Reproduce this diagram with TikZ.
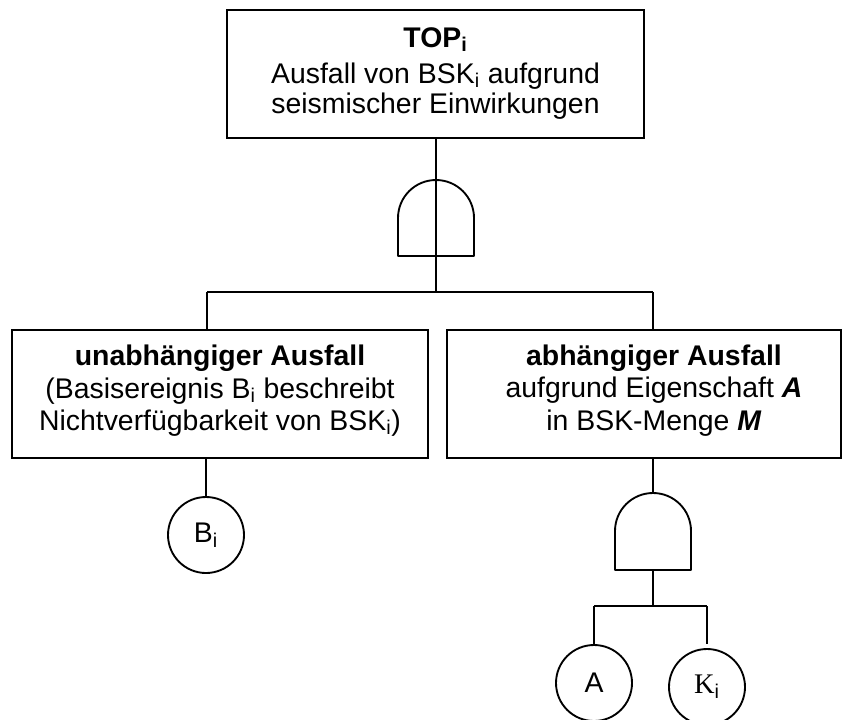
\documentclass[tikz,border=0pt]{standalone}
\usepackage{fontspec}
\setmainfont{Liberation Sans}
\newfontfamily\serifletter{Liberation Serif}
\begin{document}
\begin{tikzpicture}[x=0.75pt,y=-0.75pt,
  line width=1.4pt, line join=miter,
  box/.style={draw, rectangle, inner sep=0pt},
  txt/.style={anchor=base, inner sep=0pt, font=\fontsize{21.3}{25}\selectfont},
  event/.style={draw, circle, inner sep=0pt, minimum size=57pt,
    font=\fontsize{21.3}{25}\selectfont},
  gate/.style={line join=round}
]
\useasboundingbox (0,0) rectangle (853,719);
\clip (0,0) rectangle (853,719);

% --- top event ---
\node[box, minimum width=312.75pt, minimum height=96pt] (top) at (435.5,74) {};
\node[txt] (topA) at (435.5,47) {\textbf{TOP\textsubscript{i}}};
\node[txt] (topB) at (435.5,83) {Ausfall von BSK\textsubscript{i} aufgrund};
\node[txt] (topC) at (435.5,113) {seismischer Einwirkungen};

% --- intermediate events ---
\node[box, minimum width=312pt, minimum height=96pt] (left) at (220,394) {};
\node[txt] (leftA) at (220,365) {\textbf{unabhängiger Ausfall}};
\node[txt] (leftB) at (220,398) {(Basisereignis B\textsubscript{i} beschreibt};
\node[txt] (leftC) at (220,430) {Nichtverfügbarkeit von BSK\textsubscript{i})};

\node[box, minimum width=295.5pt, minimum height=96pt] (right) at (644,394) {};
\node[txt] (rightA) at (654,365) {\textbf{abhängiger Ausfall}};
\node[txt] (rightB) at (654,397) {aufgrund Eigenschaft \textbf{\textit{A}}};
\node[txt] (rightC) at (654,430) {in BSK-Menge \textbf{\textit{M}}};

% --- basic events ---
\node[event] (B) at (206,535) {B\textsubscript{i}};
\node[event] (A) at (594,683) {A};
\node[event] (K) at (707,687) {{\serifletter K}\textsubscript{i}};

% --- AND gate below the top event ---
\coordinate (g1) at (436,218);
\draw[gate] (398,256) -- (398,218) arc[start angle=180, end angle=360, radius=38] -- (474,256) -- cycle;
\coordinate (b1m) at (436,292);
\coordinate (b1l) at (207,292);
\coordinate (b1r) at (653,292);
\draw (top.south -| g1) -- (b1m);
\draw (b1l) -- (b1r);
\draw (b1l) -- (b1l |- left.north);
\draw (b1r) -- (b1r |- right.north);
\draw (B.north |- left.south) -- (B.north);

% --- AND gate below the dependent failure ---
\coordinate (g2top) at (653,493);
\coordinate (g2bot) at (653,570);
\draw[gate] (615,570) -- (615,531) arc[start angle=180, end angle=360, radius=38] -- (691,570) -- cycle;
\draw (g2top |- right.south) -- (g2top);
\coordinate (b2m) at (653,606);
\coordinate (b2l) at (594,606);
\coordinate (b2r) at (707,606);
\draw (g2bot) -- (b2m);
\draw (b2l) -- (b2r);
\draw (b2l) -- (A.north);
\draw (b2r) -- (707,644);
\end{tikzpicture}
\end{document}
